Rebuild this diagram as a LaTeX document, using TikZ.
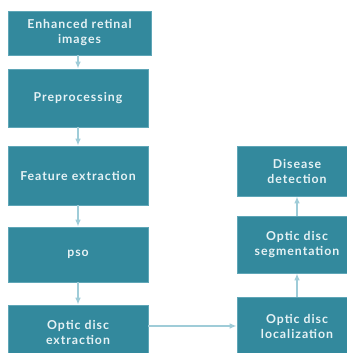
\documentclass[tikz,border=0pt]{standalone}
\usepackage{fontspec}
\setmainfont{Lato}[LetterSpace=8]
\usepackage{tikz}
\usetikzlibrary{arrows.meta,positioning}

\definecolor{boxteal}{HTML}{33899D}
\definecolor{boxedge}{HTML}{5FA6B7}
\definecolor{arrblue}{HTML}{9FCCD8}
\definecolor{txtwhite}{HTML}{E6F2F5}

\begin{document}
\begin{tikzpicture}[
  x=1pt,y=-1pt,
  font=\fontsize{12.3}{15}\selectfont\bfseries,
  box/.style={draw=boxedge,line width=0.6pt,fill=boxteal,text=txtwhite,align=center,inner sep=2pt},
  lbox/.style={box,minimum width=140pt},
  rbox/.style={box,minimum width=120pt},
  arr/.style={-{Latex[length=2.5mm,width=2mm]},draw=arrblue,line width=1.4pt}
]
\clip (0,0) rectangle (347,353);
% left column
\node[lbox,minimum width=143pt,minimum height=44pt] (enh) at (79.5,33) {Enhanced retinal\\images};
\node[lbox,minimum height=58pt] (pre) at (78,98) {Preprocessing};
\node[lbox,minimum height=59pt] (feat) at (78,175.5) {Feature extraction};
\node[lbox,minimum height=55pt] (pso) at (78,254.5) {pso};
\node[lbox,minimum height=55pt] (ext) at (78,332.5) {Optic disc\\extraction};

% right column
\node[rbox,minimum height=50pt] (dis) at (297,171) {Disease\\detection};
\node[rbox,minimum height=57pt] (seg) at (297,244.5) {Optic disc\\segmentation};
\node[rbox,minimum height=57pt] (loc) at (297,326) {Optic disc\\localization};

% arrows
\draw[arr] (enh.south -| pre) -- (pre);
\draw[arr] (pre) -- (feat);
\draw[arr] (feat) -- (pso);
\draw[arr] (pso) -- (ext);
\draw[arr] (ext.east |- loc.west) -- (loc.west);
\draw[arr] (loc) -- (seg);
\draw[arr] (seg) -- (dis);
\end{tikzpicture}
\end{document}
